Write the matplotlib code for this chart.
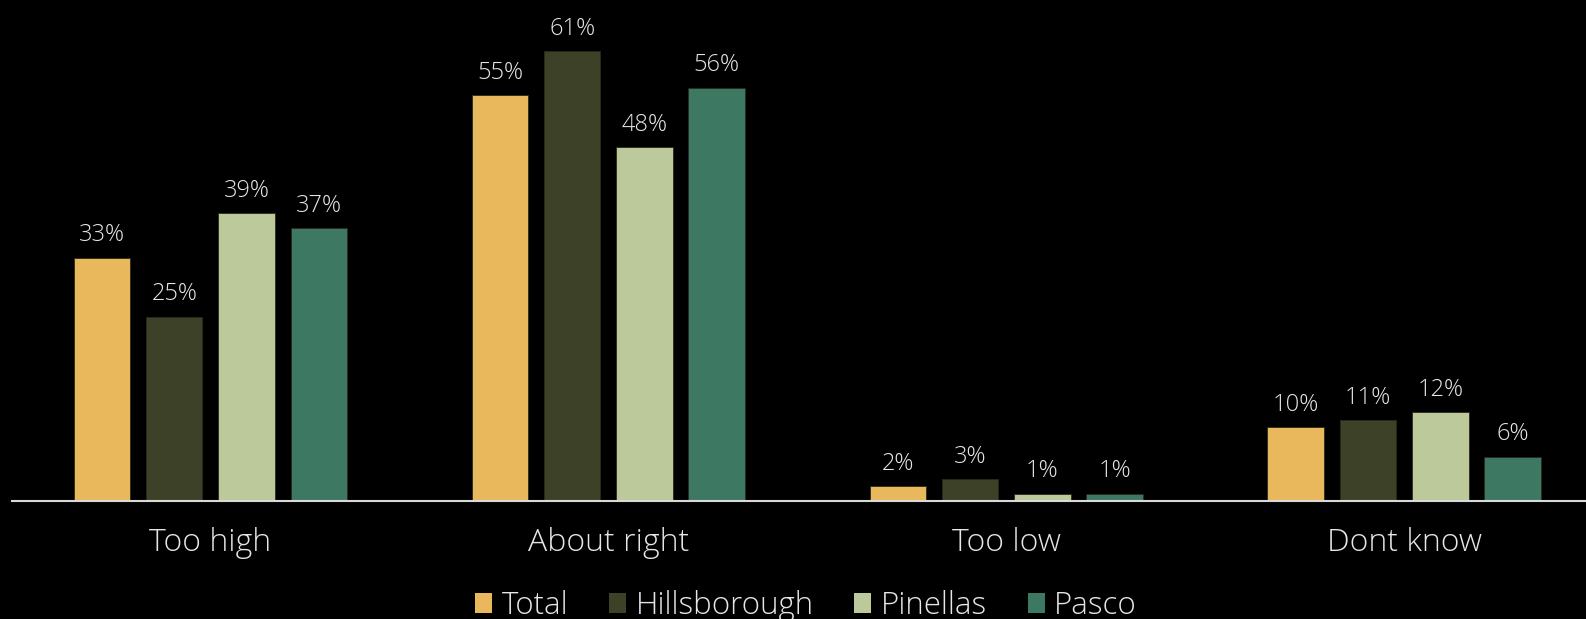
import numpy as np
from matplotlib import pyplot as plt
from matplotlib.patches import Patch

categories = ["Too high", "About right", "Too low", "Dont know"]
series = ["Total", "Hillsborough", "Pinellas", "Pasco"]
total = [33, 55, 2, 10]
hillsborough = [25, 61, 3, 11]
pinellas = [39, 48, 1, 12]
pasco = [37, 56, 1, 6]
colors = ["#E9B85C", "#3D4128", "#BCC99A", "#3D7862"]

plt.rcParams['font.family'] = ['Open Sans', 'DejaVu Sans']
txt = "#E6E6E6"

fig = plt.figure(figsize=(15.86, 6.19), dpi=100, facecolor="black")
ax = fig.add_axes([12/1586, 1-501/619, 1-12/1586, 501/619])
ax.set_facecolor("black")

x = np.arange(len(categories))
w = 0.142
step = 0.1817
for i, (vals, c) in enumerate(zip([total, hillsborough, pinellas, pasco], colors)):
    pos = x + (i - 1.5) * step
    bars = ax.bar(pos, vals, width=w, color=c, edgecolor="#2a2a1a", linewidth=0.6)
    for b, v in zip(bars, vals):
        ax.text(b.get_x() + b.get_width()/2, v + 1.4, f"{v}%", ha="center", va="bottom",
                color=txt, fontsize=17, fontweight="light")

ax.set_xlim(-0.4985, 3.457)
ax.set_ylim(0, 67.9)
ax.set_yticks([])
ax.set_xticks([])
for s in ["top", "right", "left"]:
    ax.spines[s].set_visible(False)
ax.spines["bottom"].set_color("#D9D9D9")
ax.spines["bottom"].set_linewidth(1.5)

for xi, cat in zip(x, categories):
    ax.text(xi, -5.7, cat, ha="center", va="center", color=txt, fontsize=23,
            fontweight="light")

handles = [Patch(facecolor=c, edgecolor="none") for c in colors]
fig.legend(handles, series, loc="center", bbox_to_anchor=(806/1586, 1-606/619), ncol=4,
           frameon=False, labelcolor=txt, handlelength=0.55, handleheight=0.65,
           handletextpad=0.3, columnspacing=1.3, prop={'weight': 'light', 'size': 22.5})

fig.savefig("out.png", dpi=100, facecolor="black")
